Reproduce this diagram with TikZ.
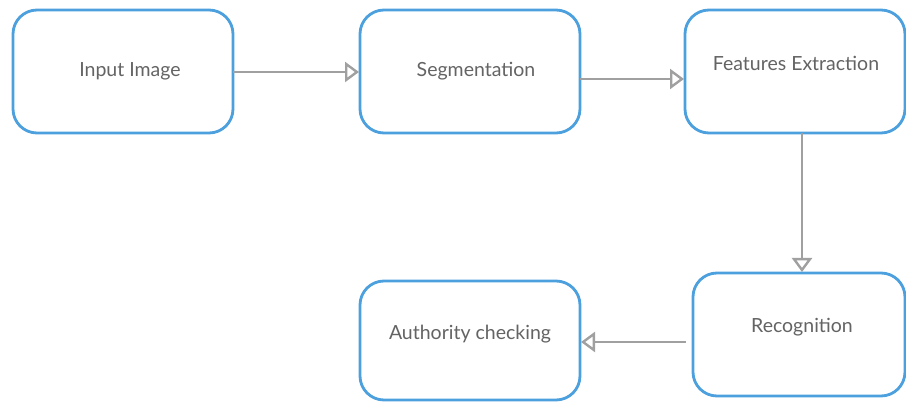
\documentclass[tikz,border=0pt]{standalone}
\usepackage{fontspec}
\setmainfont{Lato}
\usetikzlibrary{arrows.meta}
\definecolor{boxblue}{RGB}{76,160,222}
\definecolor{linegray}{RGB}{160,160,160}
\definecolor{txtgray}{RGB}{100,100,100}
\tikzset{
  stepbox/.style={draw=boxblue, line width=2.8pt, rounded corners=24pt, fill=white},
  lbl/.style={text=txtgray, font=\fontsize{19.5}{23}\selectfont, anchor=center},
  flow/.style={draw=linegray, line width=2.4pt, -{Triangle[open, length=14pt, width=20pt, line width=2.4pt]}}
}
\begin{document}
\begin{tikzpicture}[x=1pt,y=-1pt]
\useasboundingbox (0,0) rectangle (906,403);
\draw[stepbox] (13,10) rectangle (233,133);
\coordinate (b1) at (233,72);
\draw[stepbox] (360,10) rectangle (580,133);
\coordinate (b2l) at (359,72);
\coordinate (b2r) at (580,79);
\draw[stepbox] (685,10) rectangle (905,133);
\coordinate (b3l) at (684,79);
\coordinate (b3b) at (802,133);
\draw[stepbox] (693,273) rectangle (905,396);
\coordinate (b4t) at (802,272);
\coordinate (b4l) at (686,342);
\draw[stepbox] (360,281) rectangle (580,400);
\coordinate (b5r) at (581,342);
\node[lbl] (t1) at (130,71) {Input Image};
\node[lbl] (t2) at (476,71) {Segmentation};
\node[lbl] (t3) at (796,63) {Features Extraction};
\node[lbl] (t4) at (802,327) {Recognition};
\node[lbl] (t5) at (470,334) {Authority checking};
\draw[flow] (b1) -- (b2l);
\draw[flow] (b2r) -- (b3l);
\draw[flow] (b3b) -- (b4t);
\draw[flow] (b4l) -- (b5r);
\end{tikzpicture}
\end{document}
